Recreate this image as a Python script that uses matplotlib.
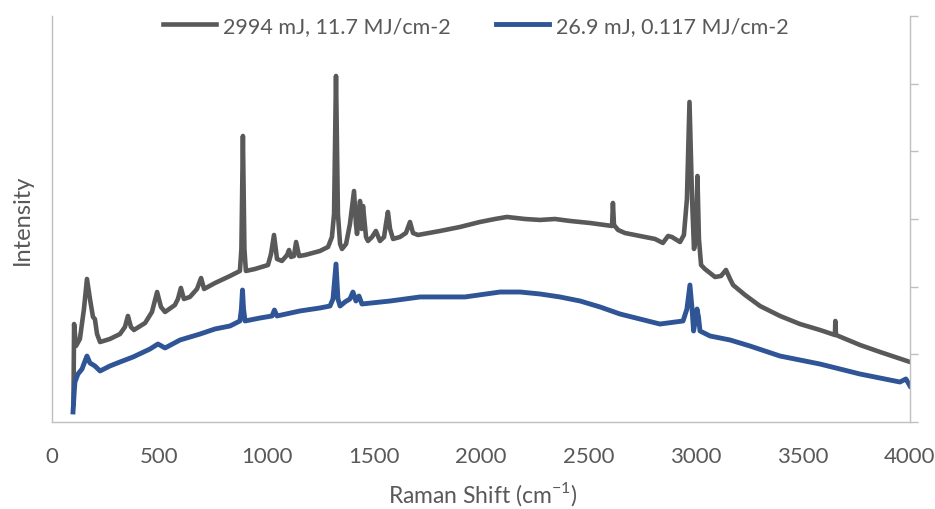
import matplotlib

matplotlib.use("Agg")
import matplotlib.pyplot as plt

# Raman spectra (wavenumber in cm-1, intensity in a.u.)
high_wn = [100, 103, 112, 130, 149, 163, 177, 191, 200, 210, 224, 270, 317, 340, 354, 368,
           382, 434, 466, 490, 508, 527, 573, 587, 601, 615, 643, 676, 695, 709, 760, 830,
           876, 883, 890, 897, 904, 946, 1007, 1021, 1035, 1049, 1072, 1096, 1105, 1114, 1128,
           1138, 1152, 1180, 1249, 1287, 1305, 1315, 1324, 1333, 1343, 1352, 1371, 1389, 1408,
           1417, 1422, 1436, 1443, 1450, 1464, 1473, 1492, 1510, 1529, 1548, 1557, 1566, 1576,
           1590, 1622, 1650, 1669, 1683, 1706, 1809, 1902, 1995, 2065, 2121, 2205, 2275, 2345,
           2415, 2508, 2578, 2611, 2615, 2620, 2639, 2671, 2741, 2811, 2848, 2872, 2890, 2928,
           2946, 2960, 2972, 2984, 2993, 3002, 3009, 3016, 3026, 3044, 3091, 3119, 3142, 3161,
           3175, 3231, 3301, 3394, 3487, 3580, 3650, 3652, 3655, 3767, 3860, 4000]
high_int = [266, 1448, 1123, 1227, 1670, 2114, 1818, 1552, 1522, 1300, 1182, 1227, 1300, 1404,
            1567, 1404, 1360, 1463, 1626, 1921, 1700, 1626, 1729, 1818, 1981, 1818, 1848, 1966,
            2128, 1966, 2054, 2158, 2232, 2557, 4227, 2557, 2232, 2261, 2320, 2483, 2764, 2409,
            2380, 2468, 2542, 2439, 2453, 2660, 2453, 2468, 2527, 2587, 2734, 3074, 5114, 3074,
            2631, 2557, 2631, 2926, 3414, 2926, 2779, 3266, 2853, 3192, 2734, 2675, 2734, 2823,
            2675, 2734, 2926, 3104, 2853, 2705, 2734, 2793, 2956, 2793, 2764, 2823, 2882, 2956,
            3000, 3030, 3000, 2986, 3000, 2971, 2941, 2912, 2897, 3237, 2912, 2838, 2793, 2749,
            2705, 2646, 2749, 2734, 2660, 2764, 3296, 4730, 3296, 2557, 2705, 3636, 2705, 2320,
            2261, 2143, 2158, 2247, 2114, 2025, 1877, 1714, 1567, 1448, 1360, 1286, 1493, 1286,
            1138, 1035, 887]

low_wn = [98, 103, 107, 121, 140, 154, 163, 177, 200, 224, 270, 317, 378, 457, 494, 527, 597,
          690, 760, 830, 876, 883, 888, 893, 900, 970, 1026, 1037, 1049, 1156, 1249, 1296, 1310,
          1324, 1333, 1343, 1366, 1389, 1403, 1417, 1431, 1445, 1576, 1716, 1925, 2089, 2182,
          2275, 2368, 2462, 2555, 2648, 2741, 2834, 2942, 2960, 2974, 2984, 2991, 3002, 3007,
          3014, 3021, 3068, 3161, 3254, 3394, 3580, 3767, 3953, 3981, 4000]
low_int = [148, 414, 591, 709, 783, 902, 975, 872, 828, 754, 828, 887, 961, 1079, 1153, 1094,
           1212, 1300, 1375, 1419, 1493, 1670, 1951, 1670, 1493, 1537, 1567, 1655, 1567, 1641,
           1685, 1714, 1818, 2335, 1818, 1714, 1774, 1818, 1921, 1788, 1862, 1744, 1788, 1848,
           1848, 1921, 1921, 1892, 1848, 1788, 1700, 1596, 1522, 1448, 1493, 1670, 2025, 1670,
           1345, 1552, 1670, 1552, 1345, 1271, 1212, 1123, 975, 857, 709, 591, 636, 532]

labels = ["2994 mJ, 11.7 MJ/cm-2", "26.9 mJ, 0.117 MJ/cm-2"]
x_ticks = list(range(0, 4001, 500))
y_ticks = list(range(0, 6001, 1000))

TEXT = "#595959"
AXIS = "#BFBFBF"

plt.rcParams["font.family"] = ["Lato", "DejaVu Sans"]
plt.rcParams["mathtext.fontset"] = "custom"
plt.rcParams["mathtext.rm"] = "Lato"

fig = plt.figure(figsize=(9.35, 5.10), dpi=100)
ax = fig.add_axes([52 / 935, 87 / 510, 858 / 935, 406 / 510])

ax.plot(high_wn, high_int, color="#595959", lw=3.3, solid_joinstyle="round", label=labels[0])
ax.plot(low_wn, low_int, color="#2F5597", lw=3.5, solid_joinstyle="round", label=labels[1])

ax.set_xlim(0, 4000)
ax.set_ylim(0, 6000)
ax.set_xticks(x_ticks)
ax.set_yticks(y_ticks)
ax.set_yticklabels([])
ax.yaxis.tick_right()

ax.tick_params(axis="x", length=0, pad=17, labelsize=16, labelcolor=TEXT)
ax.tick_params(axis="y", length=5.5, width=1, color=AXIS, direction="out")

ax.spines["top"].set_visible(False)
for side in ("left", "right", "bottom"):
    ax.spines[side].set_color(AXIS)
    ax.spines[side].set_linewidth(1)

fig.text(483 / 935, 1 - 503 / 510, r"Raman Shift (cm$^{\mathregular{-1}}$)", fontsize=16.5,
         color=TEXT, ha="center", va="baseline")
fig.text(22 / 935, 1 - 220 / 510, "Intensity", rotation=90, fontsize=17, color=TEXT,
         ha="center", va="center")

fig.legend(loc="center", bbox_to_anchor=(476 / 935, 1 - 27 / 510), ncol=2, frameon=False,
           fontsize=15.5, labelcolor=TEXT, handlelength=2.45, handletextpad=0.35,
           columnspacing=2.1)

fig.savefig("out.png", dpi=100)
